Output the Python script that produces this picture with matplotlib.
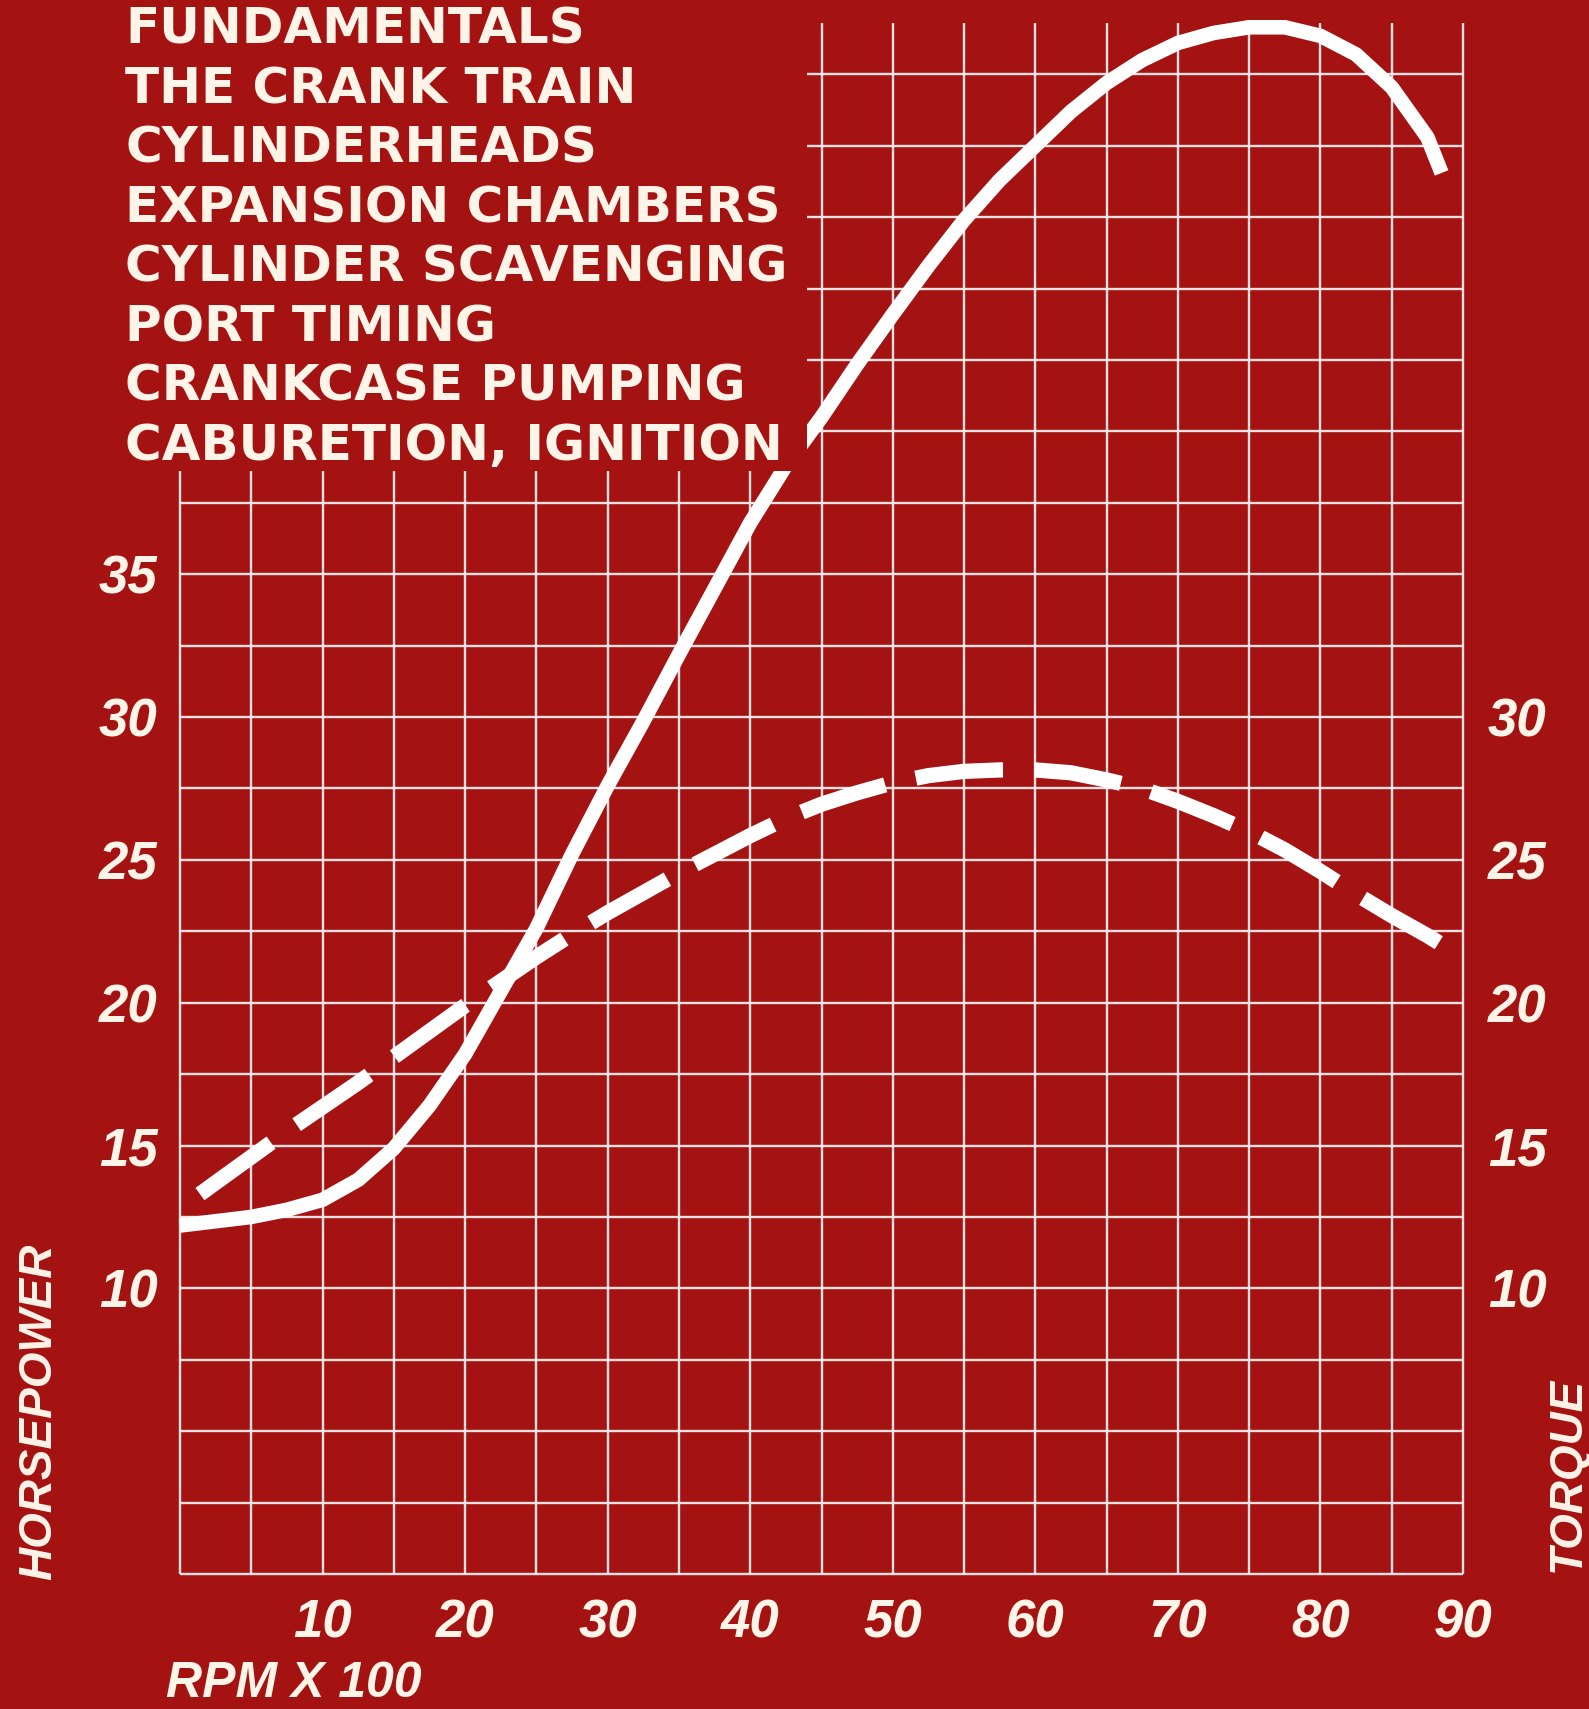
import matplotlib
matplotlib.use("Agg")
import matplotlib.pyplot as plt
import numpy as np
from matplotlib.patches import Rectangle

plt.rcParams['font.family'] = ['Liberation Sans', 'DejaVu Sans']
plt.rcParams['font.weight'] = 'bold'
plt.rcParams['font.style'] = 'italic'

BG = '#a51212'
GRID = '#fbe2e2'
INK = '#fff4e8'

# chapter list printed in the top left corner
topics = ["FUNDAMENTALS", "THE CRANK TRAIN", "CYLINDERHEADS", "EXPANSION CHAMBERS",
          "CYLINDER SCAVENGING", "PORT TIMING", "CRANKCASE PUMPING",
          "CABURETION, IGNITION"]

# horsepower curve (solid), rpm x 100
hp_rpm = [0, 2.5, 5, 7.5, 10, 12.5, 15, 17.5, 20, 22.5, 25, 27.5, 30, 32.5, 35,
          37.5, 40, 42.5, 45, 47.5, 50, 52.5, 55, 57.5, 60, 62.5, 65, 67.5, 70,
          72.5, 75, 77.5, 80, 82.5, 85, 87.5, 88.5]
hp = [12.2, 12.35, 12.5, 12.75, 13.1, 13.8, 14.9, 16.4, 18.2, 20.4, 22.6, 25.2,
      27.6, 29.85, 32.2, 34.5, 36.8, 38.8, 40.5, 42.35, 44.1, 45.8, 47.4, 48.8,
      50.0, 51.2, 52.2, 53.0, 53.6, 53.95, 54.15, 54.15, 53.85, 53.2, 52.05,
      50.3, 49.05]

# torque curve (dashed)
tq_rpm = [1.4, 2.5, 5, 7.5, 10, 12.5, 15, 17.5, 20, 22.5, 25, 27.5, 30, 32.5, 35,
          37.5, 40, 42.5, 45, 47.5, 50, 52.5, 55, 57.5, 60, 62.5, 65, 67.5, 70,
          72.5, 75, 77.5, 80, 82.5, 85, 87.5, 88.3]
tq = [13.3, 13.7, 14.6, 15.5, 16.35, 17.2, 18.1, 19.0, 19.9, 20.75, 21.6, 22.4,
      23.15, 23.85, 24.55, 25.2, 25.85, 26.45, 26.95, 27.35, 27.7, 27.95, 28.1,
      28.15, 28.15, 28.05, 27.8, 27.5, 27.05, 26.55, 26.0, 25.35, 24.6, 23.8,
      23.05, 22.35, 22.1]

rpm_ticks = [10, 20, 30, 40, 50, 60, 70, 80, 90]
hp_ticks = [10, 15, 20, 25, 30, 35]
tq_ticks = [10, 15, 20, 25, 30]

W, H = 1589, 1709
fig = plt.figure(figsize=(W / 100, H / 100), dpi=100, facecolor=BG)
# rpm 0..90 -> px 180..1463, value 0..55 -> px 1574..3 from top
ax = fig.add_axes([180 / W, (H - 1574) / H, (1463 - 180) / W, (1574 - 3) / H])
ax.set_xlim(0, 90)
ax.set_ylim(0, 55)
ax.set_facecolor(BG)
for s in ax.spines.values():
    s.set_visible(False)

# grid
ax.vlines(np.arange(0, 91, 5), 0, 54.3, color=GRID, lw=1.7, zorder=1, clip_on=False)
ax.hlines(np.arange(0, 53, 2.5), 0, 90, color=GRID, lw=1.7, zorder=1, clip_on=False)

# curves
ax.plot(hp_rpm, hp, color='white', lw=10.5, solid_capstyle='butt',
        solid_joinstyle='round', zorder=2, clip_on=False)

# stretch the dash pattern a little so the dashed line ends on a full dash
lw_tq = 11
pts = ax.transData.transform(np.column_stack([tq_rpm, tq]))
length = np.hypot(*np.diff(pts, axis=0).T).sum() / (lw_tq * 100 / 72)
on, off = 5.6, 2.0
n = round((length - on) / (on + off))
k = length / (n * (on + off) + on)
ax.plot(tq_rpm, tq, color='white', lw=lw_tq, ls=(0, (on * k, off * k)),
        dash_capstyle='butt', dash_joinstyle='round', zorder=2, clip_on=False)

# red block behind the chapter list
ax.add_patch(Rectangle((-15, 38.6), 59, 20, facecolor=BG, edgecolor='none',
                       zorder=3, clip_on=False))

ax.set_xticks(rpm_ticks)
ax.set_yticks(hp_ticks)
ax.tick_params(axis='x', length=0, colors=INK, labelsize=38, pad=18)
ax.tick_params(axis='y', length=0, colors=INK, labelsize=38, pad=16)

ax2 = ax.twinx()
ax2.set_ylim(0, 55)
ax2.set_yticks(tq_ticks)
ax2.tick_params(axis='y', length=0, colors=INK, labelsize=38, pad=18)
for s in ax2.spines.values():
    s.set_visible(False)

fig.text(39 / W, 1 - 1580 / H, 'HORSEPOWER', rotation=90, ha='center', va='bottom',
         fontsize=33, color=INK)
fig.text(1568 / W, 1 - 1572 / H, 'TORQUE', rotation=90, ha='center', va='bottom',
         fontsize=33, color=INK)
fig.text(166 / W, 1 - 1697 / H, 'RPM X 100', ha='left', va='baseline',
         fontsize=36, color=INK)

for k_, t in enumerate(topics):
    fig.text(125 / W, 1 - (44 + 59.4 * k_) / H, t, family='DejaVu Sans',
             weight='bold', style='normal', fontsize=36, va='baseline', color=INK)

fig.savefig('out.png', dpi=100, facecolor=BG)
